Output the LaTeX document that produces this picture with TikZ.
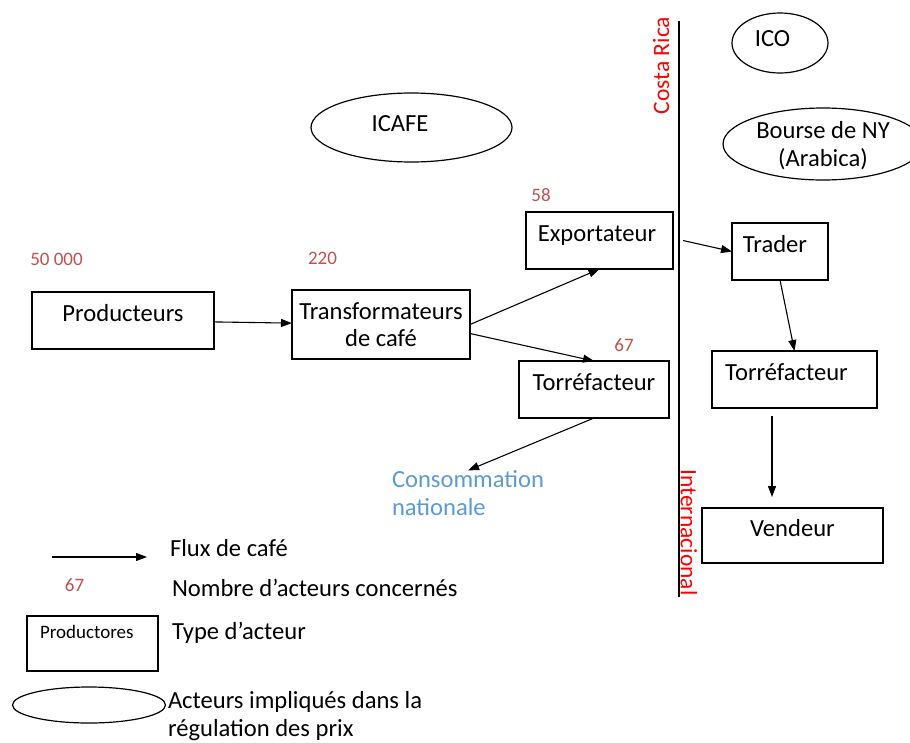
\documentclass[tikz,border=0pt]{standalone}
\usepackage{fontspec}
\setmainfont{Carlito}
\usetikzlibrary{arrows.meta,shapes.geometric}
\definecolor{countred}{RGB}{192,80,77}
\definecolor{consblue}{RGB}{91,155,213}
\begin{document}
\begin{tikzpicture}[x=1pt,y=-1pt,
  every node/.style={inner sep=0pt, outer sep=0pt},
  bigtext/.style={font=\fontsize{24.6}{27}\selectfont},
  actorbox/.style={draw, line width=1.2pt, rectangle, bigtext, align=center},
  oneline/.style={actorbox, text height=14.5pt, text depth=13pt},
  regulator/.style={draw, line width=1.2pt, ellipse},
  count/.style={text=countred, font=\fontsize{19}{22}\selectfont},
  border/.style={text=red, font=\fontsize{23.5}{27}\selectfont},
  flow/.style={line width=1.1pt, -{Triangle[length=11pt,width=8pt]}},
  legendtext/.style={bigtext, anchor=west, align=left}
]
\useasboundingbox (0,0) rectangle (910,742);

% border between Costa Rica and the international market
\coordinate (divtop) at (679,21);
\coordinate (divbot) at (679,597);
\draw[line width=1.2pt] (divtop) -- (divbot);
\node[border, rotate=90] (cr) at (661,65.5) {Costa Rica};
\node[border, rotate=-90] (intl) at (689,532.5) {Internacional};

% price regulators
\node[regulator, minimum width=96, minimum height=60] (ico) at (780,43) {};
\node[bigtext] (icot) at (772.5,38.5) {ICO};
\node[regulator, minimum width=201, minimum height=69] (icafe) at (411.5,127.5) {};
\node[bigtext] (icafet) at (400,123.5) {ICAFE};
\node[regulator, minimum width=200, minimum height=72] (nyse) at (823,144) {};
\node[bigtext, align=center, font=\fontsize{24.6}{28}\selectfont] (nyset) at (823,146) {Bourse de NY\\(Arabica)};

% actors
\node[oneline, minimum width=182, minimum height=57] (prod) at (123,320.5) {Producteurs};
\node[actorbox, minimum width=178, minimum height=69] (transf) at (381,324.5) {Transformateurs\\de café};
\node[oneline, minimum width=147, minimum height=57] (export) at (599.5,240.5) {\hspace*{-5pt}Exportateur};
\node[oneline, minimum width=150, minimum height=57] (torref) at (594,389.5) {Torréfacteur};
\node[oneline, minimum width=96, minimum height=57] (trader) at (780,251.5) {\hspace*{-10pt}Trader};
\node[oneline, minimum width=165, minimum height=57] (torrefint) at (794.5,379.5) {\hspace*{-16pt}Torréfacteur};
\node[oneline, minimum width=181, minimum height=55] (vendeur) at (792.5,535.5) {Vendeur};
\node[bigtext, align=left, anchor=west, text=consblue, font=\fontsize{24.6}{28}\selectfont] (conso) at (392,493) {Consommation\\nationale};

% number of actors
\node[count] (nprod) at (56.5,259) {50 000};
\node[count] (ntransf) at (322.5,258.5) {220};
\node[count] (nexport) at (541,195) {58};
\node[count] (ntorref) at (624,345.5) {67};

% coffee flows
\draw[flow] (prod) -- (transf);
\draw[flow] (transf.east) -- (export.south);
\draw[flow] ([yshift=-9pt]transf.east) -- (torref.north);
\draw[flow] (torref.south) -- (conso.north);
\draw[flow] ([xshift=10pt]export.east) -- (trader.west);
\draw[flow] (trader.south) -- (torrefint.north);
\draw[flow] ([xshift=-22.5pt,yshift=-8pt]torrefint.south) -- ([xshift=-20.5pt,yshift=11pt]vendeur.north);

% legend
\coordinate (lgfrom) at (52,557);
\coordinate (lgto) at (147,557);
\draw[flow] (lgfrom) -- (lgto);
\node[legendtext] (lgflux) at (170,548.5) {Flux de café};
\node[count] (lgcount) at (74.5,585.5) {67};
\node[legendtext] (lgnombre) at (172,588) {Nombre d’acteurs concernés};
\node[draw, line width=1.2pt, rectangle, minimum width=131, minimum height=55] (lgbox) at (92.5,643.5) {};
\node[count, text=black, anchor=west] (lgboxt) at (40,632) {Productores};
\node[legendtext] (lgtype) at (172,633) {Type d’acteur};
\node[regulator, minimum width=153, minimum height=36] (lgell) at (89,705) {};
\node[legendtext, font=\fontsize{24.6}{28}\selectfont] (lgreg) at (168,716) {Acteurs impliqués dans la\\régulation des prix};
\end{tikzpicture}
\end{document}
